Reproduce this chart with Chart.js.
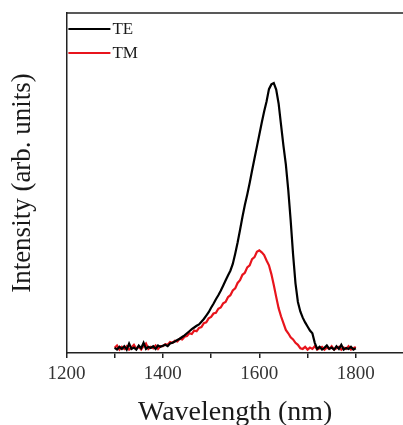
<!DOCTYPE html>
<html>
<head>
<meta charset="utf-8">
<script src="https://cdn.jsdelivr.net/npm/chart.js@4.4.0/dist/chart.umd.min.js"></script>
<style>
html, body { margin: 0; padding: 0; background: #fff; overflow: hidden; }
</style>
</head>
<body>
<canvas id="chart" width="410" height="425"></canvas>
<script>
// wavelength (nm), 5 nm steps
var wavelengths = [
    1300, 1305, 1310, 1315, 1320, 1325, 1330, 1335, 1340, 1345,
    1350, 1355, 1360, 1365, 1370, 1375, 1380, 1385, 1390, 1395,
    1400, 1405, 1410, 1415, 1420, 1425, 1430, 1435, 1440, 1445,
    1450, 1455, 1460, 1465, 1470, 1475, 1480, 1485, 1490, 1495,
    1500, 1505, 1510, 1515, 1520, 1525, 1530, 1535, 1540, 1545,
    1550, 1555, 1560, 1565, 1570, 1575, 1580, 1585, 1590, 1595,
    1600, 1605, 1610, 1615, 1620, 1625, 1630, 1635, 1640, 1645,
    1650, 1655, 1660, 1665, 1670, 1675, 1680, 1685, 1690, 1695,
    1700, 1705, 1710, 1715, 1720, 1725, 1730, 1735, 1740, 1745,
    1750, 1755, 1760, 1765, 1770, 1775, 1780, 1785, 1790, 1795,
    1800
];

// TE intensity (arb. units)
var teValues = [
    0.015, 0.010, 0.018, 0.012, 0.020, 0.010, 0.028, 0.012, 0.016, 0.010,
    0.022, 0.014, 0.030, 0.012, 0.018, 0.015, 0.020, 0.012, 0.022, 0.018,
    0.021, 0.024, 0.020, 0.028, 0.030, 0.034, 0.038, 0.042, 0.047, 0.052,
    0.058, 0.064, 0.070, 0.075, 0.080, 0.084, 0.092, 0.100, 0.110, 0.120,
    0.133, 0.145, 0.158, 0.170, 0.183, 0.198, 0.213, 0.228, 0.242, 0.262,
    0.292, 0.325, 0.362, 0.400, 0.435, 0.466, 0.500, 0.537, 0.572, 0.607,
    0.642, 0.677, 0.710, 0.740, 0.776, 0.790, 0.794, 0.775, 0.734, 0.672,
    0.610, 0.555, 0.480, 0.390, 0.290, 0.205, 0.150, 0.122, 0.104, 0.090,
    0.078, 0.066, 0.058, 0.030, 0.012, 0.018, 0.010, 0.015, 0.022, 0.012,
    0.016, 0.010, 0.020, 0.012, 0.024, 0.010, 0.015, 0.012, 0.018, 0.010,
    0.014
];

// TM intensity (arb. units)
var tmValues = [
    0.015, 0.022, 0.010, 0.018, 0.012, 0.020, 0.010, 0.016, 0.024, 0.012,
    0.018, 0.010, 0.020, 0.028, 0.012, 0.018, 0.014, 0.022, 0.012, 0.020,
    0.020, 0.026, 0.024, 0.032, 0.030, 0.036, 0.034, 0.042, 0.040, 0.048,
    0.050, 0.058, 0.056, 0.066, 0.064, 0.074, 0.076, 0.088, 0.090, 0.102,
    0.106, 0.116, 0.118, 0.130, 0.134, 0.146, 0.150, 0.164, 0.170, 0.184,
    0.190, 0.206, 0.214, 0.230, 0.236, 0.252, 0.258, 0.276, 0.282, 0.298,
    0.302, 0.296, 0.288, 0.272, 0.258, 0.232, 0.200, 0.165, 0.132, 0.108,
    0.088, 0.068, 0.058, 0.046, 0.040, 0.030, 0.024, 0.014, 0.012, 0.018,
    0.010, 0.016, 0.012, 0.020, 0.010, 0.014, 0.018, 0.010, 0.016, 0.012,
    0.020, 0.010, 0.014, 0.018, 0.010, 0.016, 0.012, 0.020, 0.010, 0.014,
    0.018
];

var xTickLabels = [1200, 1400, 1600, 1800];

function toPoints(xs, ys) {
    return xs.map(function (x, i) { return { x: x, y: ys[i] }; });
}

var serif = "'Liberation Serif', 'DejaVu Serif', serif";

// top edge of the frame + legend inside the top-left corner
var framePlugin = {
    id: 'frame',
    afterDraw: function (chart) {
        var ctx = chart.ctx;
        var a = chart.chartArea;
        ctx.save();
        ctx.strokeStyle = '#222';
        ctx.lineWidth = 1.5;
        ctx.beginPath();
        ctx.moveTo(a.left, a.top);
        ctx.lineTo(a.right, a.top);
        ctx.stroke();

        chart.data.datasets.forEach(function (ds, i) {
            var y = a.top + 16 + i * 24;
            ctx.strokeStyle = ds.borderColor;
            ctx.lineWidth = 2;
            ctx.beginPath();
            ctx.moveTo(a.left + 2, y);
            ctx.lineTo(a.left + 44, y);
            ctx.stroke();
            ctx.fillStyle = '#1a1a1a';
            ctx.font = '17px ' + serif;
            ctx.textBaseline = 'middle';
            ctx.fillText(ds.label, a.left + 46, y + 1);
        });
        ctx.restore();
    }
};

var config = {
    type: 'line',
    data: {
        datasets: [{
            label: 'TE',
            data: toPoints(wavelengths, teValues),
            borderColor: '#000000',
            borderWidth: 2.2,
            pointRadius: 0,
            tension: 0
        }, {
            label: 'TM',
            data: toPoints(wavelengths, tmValues),
            borderColor: '#e8141c',
            borderWidth: 2.2,
            pointRadius: 0,
            tension: 0
        }]
    },
    options: {
        responsive: false,
        animation: false,
        layout: { padding: { left: 7, right: 6, top: 13, bottom: 0 } },
        plugins: {
            legend: { display: false },
            tooltip: { enabled: false }
        },
        scales: {
            x: {
                type: 'linear',
                min: 1200,
                max: 1900,
                ticks: {
                    stepSize: 100,
                    autoSkip: false,
                    maxRotation: 0,
                    color: '#333',
                    font: { family: serif, size: 19 },
                    padding: 5,
                    callback: function (v) {
                        return xTickLabels.indexOf(v) >= 0 ? String(v) : '';
                    }
                },
                grid: {
                    drawOnChartArea: false,
                    drawTicks: true,
                    tickLength: 5,
                    color: '#222',
                    lineWidth: 1.5
                },
                border: { color: '#222', width: 1.5 },
                title: {
                    display: true,
                    text: 'Wavelength (nm)',
                    color: '#1a1a1a',
                    font: { family: serif, size: 28, lineHeight: 0.9 },
                    padding: { top: 9, bottom: 0 }
                }
            },
            y: {
                min: 0,
                max: 1,
                ticks: { display: false },
                grid: { display: false, drawTicks: false },
                border: { color: '#222', width: 1.5 },
                title: {
                    display: true,
                    text: 'Intensity (arb. units)',
                    color: '#1a1a1a',
                    font: { family: serif, size: 27 },
                    padding: { top: 0, bottom: 27 }
                }
            }
        }
    },
    plugins: [framePlugin]
};

window.onload = function () {
    var ctx = document.getElementById('chart').getContext('2d');
    window.myChart = new Chart(ctx, config);
};
</script>
</body>
</html>
